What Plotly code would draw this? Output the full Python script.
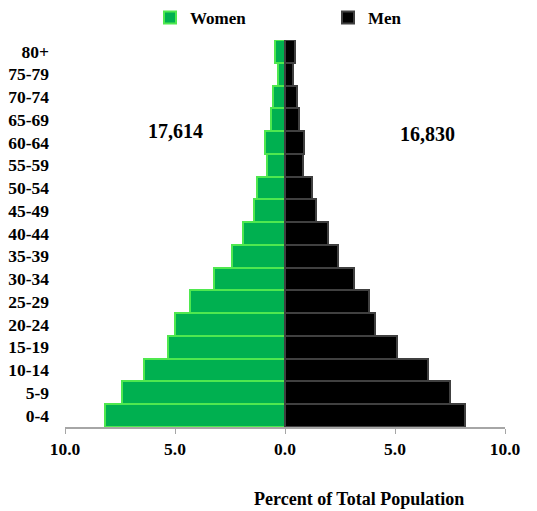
import plotly.graph_objects as go

age_groups = ["0-4", "5-9", "10-14", "15-19", "20-24", "25-29", "30-34", "35-39",
              "40-44", "45-49", "50-54", "55-59", "60-64", "65-69", "70-74", "75-79", "80+"]
women_pct = [8.2, 7.4, 6.4, 5.3, 5.0, 4.3, 3.25, 2.4, 1.9, 1.42, 1.28, 0.83, 0.9, 0.64, 0.55, 0.3, 0.46]
men_pct = [8.2, 7.5, 6.5, 5.1, 4.1, 3.82, 3.15, 2.43, 1.97, 1.4, 1.24, 0.83, 0.87, 0.64, 0.55, 0.35, 0.47]
women_total = "17,614"
men_total = "16,830"
tick_vals = [-10, -5, 0, 5, 10]
tick_text = ["10.0", "5.0", "0.0", "5.0", "10.0"]

FONT = "Liberation Serif, Times New Roman, serif"
BOLD = dict(family=FONT, color="#000", weight="bold")

fig = go.Figure()
fig.add_trace(go.Bar(
    y=age_groups, x=[-v for v in women_pct], orientation="h", name="Women",
    marker=dict(color="#00b050", line=dict(color="#4fe84f", width=2)),
    hoverinfo="skip",
))
fig.add_trace(go.Bar(
    y=age_groups, x=men_pct, orientation="h", name="Men",
    marker=dict(color="#000000", line=dict(color="#404040", width=2)),
    hoverinfo="skip",
))

fig.add_annotation(x=-5.0, y="60-64", text=women_total, showarrow=False,
                   yshift=11, font=dict(size=20, **BOLD))
fig.add_annotation(x=6.48, y="60-64", text=men_total, showarrow=False,
                   yshift=8, font=dict(size=20, **BOLD))
fig.add_annotation(x=0.668, y=-0.186, xref="paper", yref="paper",
                   text="Percent of Total Population", showarrow=False,
                   xanchor="center", yanchor="middle", font=dict(size=18, **BOLD))

fig.update_layout(
    width=537, height=511,
    margin=dict(l=65, r=32, t=40, b=84, autoexpand=False),
    paper_bgcolor="white", plot_bgcolor="white",
    barmode="relative", bargap=0.0,
    font=dict(family=FONT, size=14, color="#000"),
    showlegend=True,
    legend=dict(orientation="h", xref="container", yref="container",
                x=150 / 537, y=1.0, xanchor="left", yanchor="top",
                entrywidth=133, entrywidthmode="pixels",
                font=dict(size=17, **BOLD),
                itemwidth=30, tracegroupgap=0, bgcolor="rgba(0,0,0,0)"),
    xaxis=dict(range=[-10, 10], tickvals=tick_vals, ticktext=tick_text,
               showgrid=False, zeroline=True, zerolinecolor="#808080", zerolinewidth=1.5,
               showline=True, linecolor="#a6a6a6", linewidth=1.5,
               ticks="outside", ticklen=5, tickcolor="#a6a6a6",
               tickfont=dict(size=17.5, **BOLD), fixedrange=True),
    yaxis=dict(showgrid=False, showline=False, ticks="", ticklabelstandoff=15,
               tickfont=dict(size=17.5, **BOLD),
               range=[-0.5, 16.5], fixedrange=True),
)

fig.write_html("out.html", config={"displayModeBar": False},
               post_script="document.body.style.margin='0';")
